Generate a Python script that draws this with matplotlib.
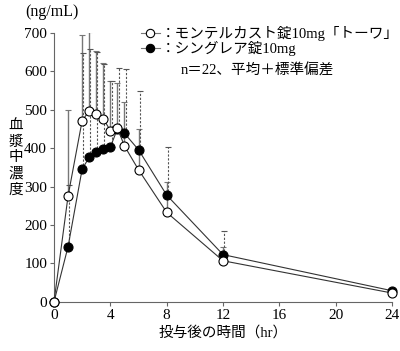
import numpy as np
import matplotlib
matplotlib.use("Agg")
import matplotlib.pyplot as plt
import matplotlib.transforms as mtransforms
from matplotlib.lines import Line2D

plt.rcParams['font.family'] = ['Liberation Serif', 'Noto Sans CJK JP']

# time points (hr)
t = np.array([0, 1, 2, 2.5, 3, 3.5, 4, 4.5, 5, 6, 8, 12, 24])

# モンテルカスト錠10mg「トーワ」 (open circles)
towa_mean = np.array([0, 276, 472, 497, 489, 477, 446, 453, 406, 344, 233, 107, 23])
towa_upper = np.array([0, 500, 695, 702, 654, 621, 574, 570, 520, 450, 313, 142, 30])

# シングレア錠10mg (filled circles)
sing_mean = np.array([0, 144, 346, 376, 391, 399, 403, 450, 439, 396, 278, 123, 29])
sing_upper = np.array([0, 305, 647, 658, 651, 618, 575, 610, 606, 550, 404, 185, 36])

xticks = [0, 4, 8, 12, 16, 20, 24]
yticks = [0, 100, 200, 300, 400, 500, 600, 700]
ylabel_chars = ['血', '漿', '中', '濃', '度']

fig = plt.figure(figsize=(4.0, 3.51), dpi=100)
ax = fig.add_axes([0.135, 0.14, 0.845, 0.766])

shift = mtransforms.ScaledTranslation(1.2 / 100, 0, fig.dpi_scale_trans)

# error bars (upper only)
e1 = ax.errorbar(t, towa_mean, yerr=[np.zeros_like(t), towa_upper - towa_mean],
                 fmt='none', ecolor='#777777', elinewidth=1.0, capsize=2.5,
                 capthick=0.8, zorder=2)
e2 = ax.errorbar(t, sing_mean, yerr=[np.zeros_like(t), sing_upper - sing_mean],
                 fmt='none', ecolor='#555555', elinewidth=0.8, capsize=2.5,
                 capthick=0.8, zorder=2)
for c in e2.lines[2]:
    c.set_linestyle((0, (2, 1.5)))
    c.set_transform(c.get_transform() + shift)
for c in e2.lines[1]:
    c.set_transform(c.get_transform() + shift)

ax.plot(t, sing_mean, color='#333333', lw=0.8, marker='o', ms=6.5,
        mfc='black', mec='black', mew=0.8, zorder=3, clip_on=False)
ax.plot(t, towa_mean, color='#333333', lw=0.8, marker='o', ms=6.5,
        mfc='white', mec='black', mew=0.8, zorder=4, clip_on=False)

ax.set_xlim(0, 24)
ax.set_ylim(0, 700)
ax.set_xticks(xticks)
ax.set_yticks(yticks)
ax.tick_params(labelsize=11, length=3, width=0.8, color='#666666', pad=2)
for s in ['top', 'right']:
    ax.spines[s].set_visible(False)
for s in ['left', 'bottom']:
    ax.spines[s].set_color('#666666')
    ax.spines[s].set_linewidth(0.8)

ax.set_xlabel('投与後の時間（hr）', fontsize=10.5, labelpad=3)
for i, ch in enumerate(ylabel_chars):
    fig.text(0.04, 1 - (126 + 16 * i) / 351, ch, fontsize=10.5,
             ha='center', va='center')
fig.text(0.062, 0.965, '(ng/mL)', fontsize=11.5, ha='left', va='center')

handles = [
    Line2D([], [], color='#777777', lw=0.8, marker='o', ms=6, mfc='white', mec='black', mew=0.8),
    Line2D([], [], color='#777777', lw=0.8, marker='o', ms=6, mfc='black', mec='black', mew=0.8),
]
labels = ['：モンテルカスト錠10mg「トーワ」', '：シングレア錠10mg']
fig.legend(handles, labels, loc='upper left', bbox_to_anchor=(0.352, 0.927),
           frameon=False, fontsize=10.5, handlelength=1.3, handletextpad=0.1,
           labelspacing=0.05, borderpad=0, borderaxespad=0)
fig.text(0.452, 0.8, 'n＝22、平均＋標準偏差', fontsize=10.5, ha='left', va='center')

fig.savefig('out.png', dpi=100)
